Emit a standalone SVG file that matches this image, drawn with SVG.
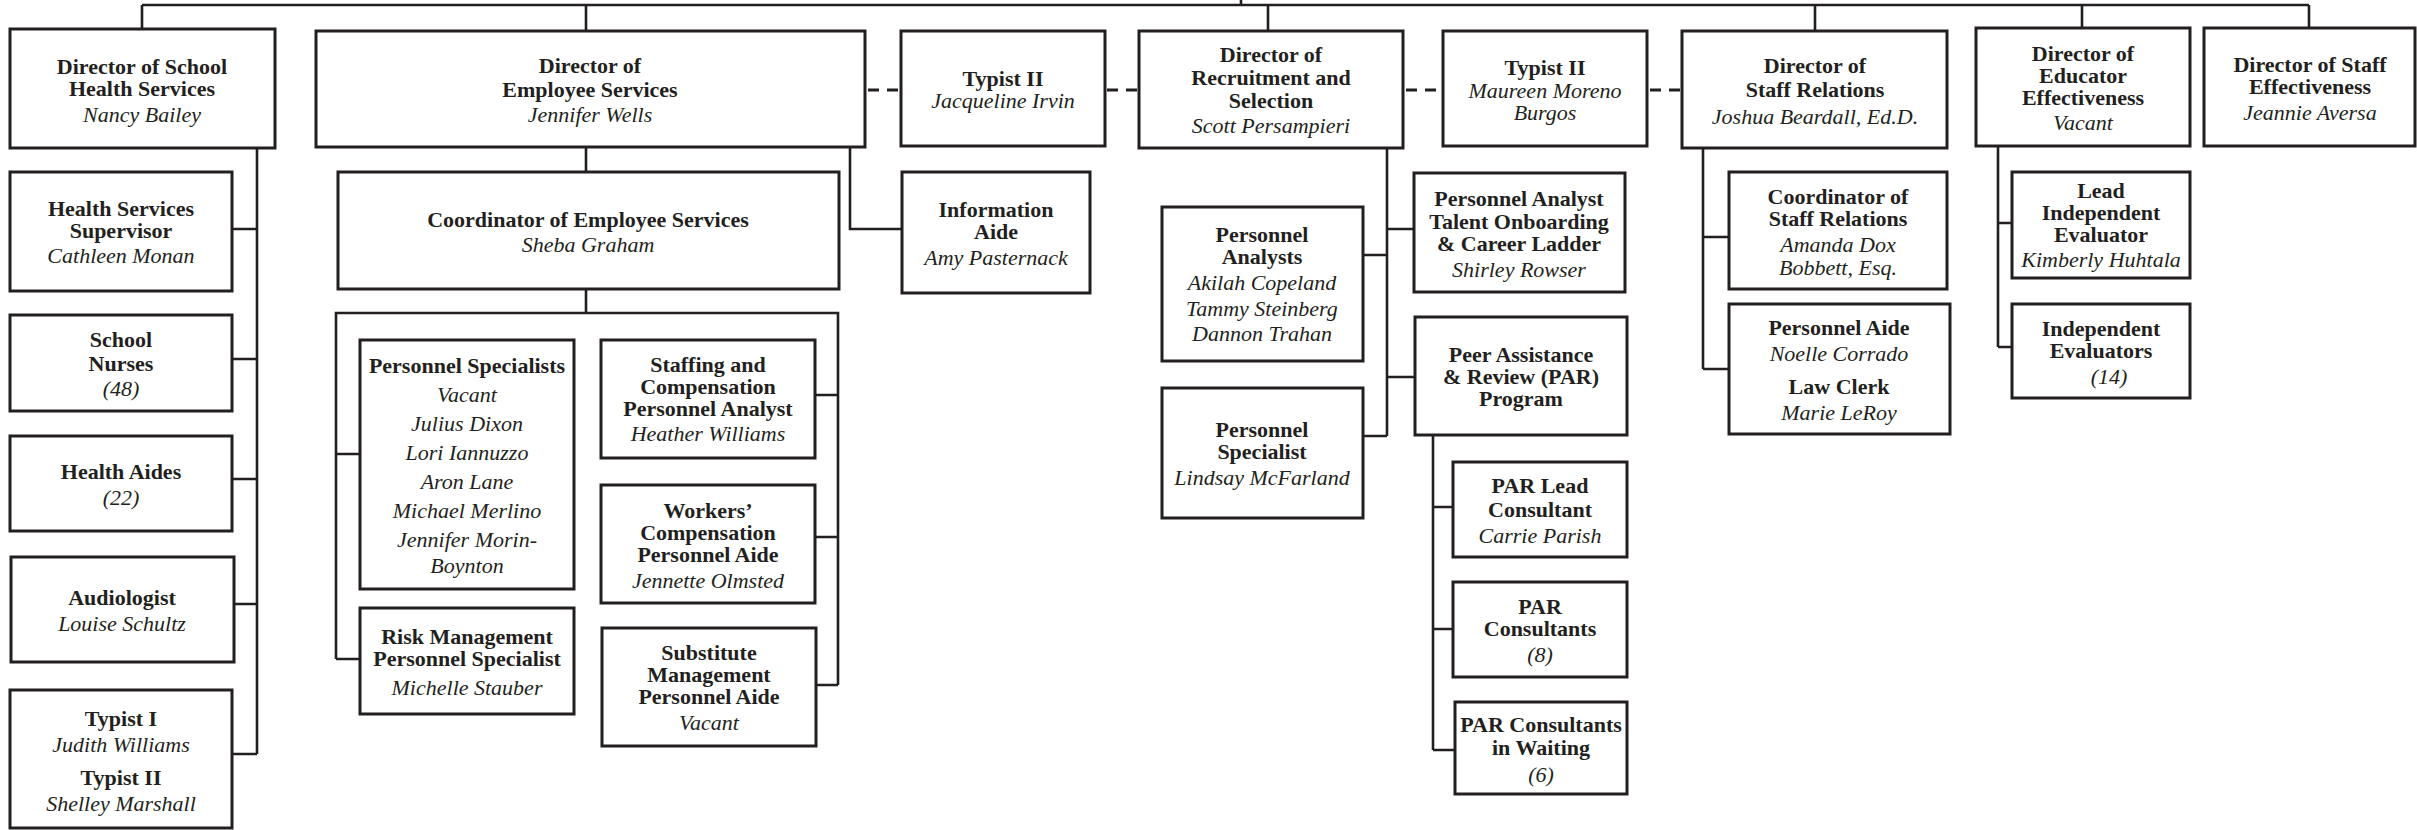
<svg xmlns="http://www.w3.org/2000/svg" width="2417" height="830" viewBox="0 0 2417 830">
<style>
.bg{fill:#fff}
.box{fill:#fff;stroke:#231f20;stroke-width:3}
.ln{stroke:#231f20;stroke-width:2.6;fill:none}
.dash{stroke-width:3;stroke-dasharray:11 8}
text{font-family:"Liberation Serif","Times New Roman",serif;font-size:22px;text-anchor:middle;fill:#231f20}
.b{font-weight:bold}
.i{font-style:italic}
</style>
<rect class="bg" x="0" y="0" width="2417" height="830"/>
<g id="connectors">
<path class="ln" d="M1241,0V5M142,5H2309M142,5V29M586,5V31M1268,5V31M1815,5V31M2082,5V28M2309,5V28"/>
<path class="ln dash" d="M868,90H901M1107,90H1139M1406,90H1443M1650,90H1682"/>
<path class="ln" d="M257,148V754M232,229H257M232,359H257M232,479H257M234,604H257M232,754H257"/>
<path class="ln" d="M586,147V172M586,289V313M336,659V313H838V685M336,454H360M336,659H360M815,395H838M815,537H838M816,685H838"/>
<path class="ln" d="M850,147V229H902"/>
<path class="ln" d="M1387,148V436M1387,229H1414M1363,255H1387M1387,377H1415M1363,436H1387"/>
<path class="ln" d="M1433,435V750M1433,507H1453M1433,629H1453M1433,750H1455"/>
<path class="ln" d="M1703,148V369M1703,237H1729M1703,369H1729"/>
<path class="ln" d="M1998,146V347M1998,223H2012M1998,347H2012"/>
</g>
<g id="dir-school-health"><rect class="box" x="10" y="29" width="265" height="119"/><text class="b" x="142" y="74">Director of School</text><text class="b" x="142" y="96">Health Services</text><text class="i" x="142" y="122">Nancy Bailey</text></g>
<g id="dir-employee-services"><rect class="box" x="316" y="31" width="549" height="116"/><text class="b" x="590" y="73">Director of</text><text class="b" x="590" y="97">Employee Services</text><text class="i" x="590" y="122">Jennifer Wells</text></g>
<g id="typist-irvin"><rect class="box" x="901" y="31" width="204" height="115"/><text class="b" x="1003" y="86">Typist II</text><text class="i" x="1003" y="108">Jacqueline Irvin</text></g>
<g id="dir-recruitment"><rect class="box" x="1139" y="31" width="264" height="117"/><text class="b" x="1271" y="62">Director of</text><text class="b" x="1271" y="85">Recruitment and</text><text class="b" x="1271" y="108">Selection</text><text class="i" x="1271" y="133">Scott Persampieri</text></g>
<g id="typist-burgos"><rect class="box" x="1443" y="31" width="204" height="115"/><text class="b" x="1545" y="75">Typist II</text><text class="i" x="1545" y="98">Maureen Moreno</text><text class="i" x="1545" y="120">Burgos</text></g>
<g id="dir-staff-relations"><rect class="box" x="1682" y="31" width="265" height="117"/><text class="b" x="1815" y="73">Director of</text><text class="b" x="1815" y="97">Staff Relations</text><text class="i" x="1815" y="124">Joshua Beardall, Ed.D.</text></g>
<g id="dir-educator-effectiveness"><rect class="box" x="1976" y="28" width="214" height="118"/><text class="b" x="2083" y="61">Director of</text><text class="b" x="2083" y="83">Educator</text><text class="b" x="2083" y="105">Effectiveness</text><text class="i" x="2083" y="130">Vacant</text></g>
<g id="dir-staff-effectiveness"><rect class="box" x="2204" y="28" width="211" height="118"/><text class="b" x="2310" y="72">Director of Staff</text><text class="b" x="2310" y="94">Effectiveness</text><text class="i" x="2310" y="120">Jeannie Aversa</text></g>
<g id="hs-supervisor"><rect class="box" x="10" y="172" width="222" height="119"/><text class="b" x="121" y="216">Health Services</text><text class="b" x="121" y="238">Supervisor</text><text class="i" x="121" y="263">Cathleen Monan</text></g>
<g id="school-nurses"><rect class="box" x="10" y="315" width="222" height="96"/><text class="b" x="121" y="347">School</text><text class="b" x="121" y="371">Nurses</text><text class="i" x="121" y="396">(48)</text></g>
<g id="health-aides"><rect class="box" x="10" y="436" width="222" height="95"/><text class="b" x="121" y="479">Health Aides</text><text class="i" x="121" y="505">(22)</text></g>
<g id="audiologist"><rect class="box" x="11" y="557" width="223" height="105"/><text class="b" x="122" y="605">Audiologist</text><text class="i" x="122" y="631">Louise Schultz</text></g>
<g id="typists"><rect class="box" x="10" y="690" width="222" height="138"/><text class="b" x="121" y="726">Typist I</text><text class="i" x="121" y="752">Judith Williams</text><text class="b" x="121" y="785">Typist II</text><text class="i" x="121" y="811">Shelley Marshall</text></g>
<g id="coord-employee-services"><rect class="box" x="338" y="172" width="501" height="117"/><text class="b" x="588" y="227">Coordinator of Employee Services</text><text class="i" x="588" y="252">Sheba Graham</text></g>
<g id="personnel-specialists"><rect class="box" x="360" y="340" width="214" height="249"/><text class="b" x="467" y="373">Personnel Specialists</text><text class="i" x="467" y="402">Vacant</text><text class="i" x="467" y="431">Julius Dixon</text><text class="i" x="467" y="460">Lori Iannuzzo</text><text class="i" x="467" y="489">Aron Lane</text><text class="i" x="467" y="518">Michael Merlino</text><text class="i" x="467" y="547">Jennifer Morin-</text><text class="i" x="467" y="573">Boynton</text></g>
<g id="risk-management"><rect class="box" x="360" y="608" width="214" height="106"/><text class="b" x="467" y="644">Risk Management</text><text class="b" x="467" y="666">Personnel Specialist</text><text class="i" x="467" y="695">Michelle Stauber</text></g>
<g id="staffing-compensation"><rect class="box" x="601" y="340" width="214" height="118"/><text class="b" x="708" y="372">Staffing and</text><text class="b" x="708" y="394">Compensation</text><text class="b" x="708" y="416">Personnel Analyst</text><text class="i" x="708" y="441">Heather Williams</text></g>
<g id="workers-compensation"><rect class="box" x="601" y="485" width="214" height="118"/><text class="b" x="708" y="518">Workers’</text><text class="b" x="708" y="540">Compensation</text><text class="b" x="708" y="562">Personnel Aide</text><text class="i" x="708" y="588">Jennette Olmsted</text></g>
<g id="substitute-management"><rect class="box" x="602" y="628" width="214" height="118"/><text class="b" x="709" y="660">Substitute</text><text class="b" x="709" y="682">Management</text><text class="b" x="709" y="704">Personnel Aide</text><text class="i" x="709" y="730">Vacant</text></g>
<g id="information-aide"><rect class="box" x="902" y="172" width="188" height="121"/><text class="b" x="996" y="217">Information</text><text class="b" x="996" y="239">Aide</text><text class="i" x="996" y="265">Amy Pasternack</text></g>
<g id="personnel-analysts"><rect class="box" x="1162" y="207" width="201" height="154"/><text class="b" x="1262" y="242">Personnel</text><text class="b" x="1262" y="264">Analysts</text><text class="i" x="1262" y="290">Akilah Copeland</text><text class="i" x="1262" y="316">Tammy Steinberg</text><text class="i" x="1262" y="341">Dannon Trahan</text></g>
<g id="personnel-specialist-mcfarland"><rect class="box" x="1162" y="388" width="201" height="130"/><text class="b" x="1262" y="437">Personnel</text><text class="b" x="1262" y="459">Specialist</text><text class="i" x="1262" y="485">Lindsay McFarland</text></g>
<g id="talent-onboarding"><rect class="box" x="1414" y="173" width="211" height="119"/><text class="b" x="1519" y="206">Personnel Analyst</text><text class="b" x="1519" y="229">Talent Onboarding</text><text class="b" x="1519" y="251">&amp; Career Ladder</text><text class="i" x="1519" y="277">Shirley Rowser</text></g>
<g id="par-program"><rect class="box" x="1415" y="317" width="212" height="118"/><text class="b" x="1521" y="362">Peer Assistance</text><text class="b" x="1521" y="384">&amp; Review (PAR)</text><text class="b" x="1521" y="406">Program</text></g>
<g id="par-lead"><rect class="box" x="1453" y="462" width="174" height="95"/><text class="b" x="1540" y="493">PAR Lead</text><text class="b" x="1540" y="517">Consultant</text><text class="i" x="1540" y="543">Carrie Parish</text></g>
<g id="par-consultants"><rect class="box" x="1453" y="582" width="174" height="95"/><text class="b" x="1540" y="614">PAR</text><text class="b" x="1540" y="636">Consultants</text><text class="i" x="1540" y="662">(8)</text></g>
<g id="par-waiting"><rect class="box" x="1455" y="702" width="172" height="92"/><text class="b" x="1541" y="732">PAR Consultants</text><text class="b" x="1541" y="755">in Waiting</text><text class="i" x="1541" y="782">(6)</text></g>
<g id="coord-staff-relations"><rect class="box" x="1729" y="172" width="218" height="117"/><text class="b" x="1838" y="204">Coordinator of</text><text class="b" x="1838" y="226">Staff Relations</text><text class="i" x="1838" y="252">Amanda Dox</text><text class="i" x="1838" y="275">Bobbett, Esq.</text></g>
<g id="personnel-aide-law-clerk"><rect class="box" x="1729" y="304" width="221" height="130"/><text class="b" x="1839" y="335">Personnel Aide</text><text class="i" x="1839" y="361">Noelle Corrado</text><text class="b" x="1839" y="394">Law Clerk</text><text class="i" x="1839" y="420">Marie LeRoy</text></g>
<g id="lead-independent-evaluator"><rect class="box" x="2012" y="172" width="178" height="106"/><text class="b" x="2101" y="198">Lead</text><text class="b" x="2101" y="220">Independent</text><text class="b" x="2101" y="242">Evaluator</text><text class="i" x="2101" y="267">Kimberly Huhtala</text></g>
<g id="independent-evaluators"><rect class="box" x="2012" y="304" width="178" height="94"/><text class="b" x="2101" y="336">Independent</text><text class="b" x="2101" y="358">Evaluators</text><text class="i" x="2109" y="384">(14)</text></g>
</svg>
